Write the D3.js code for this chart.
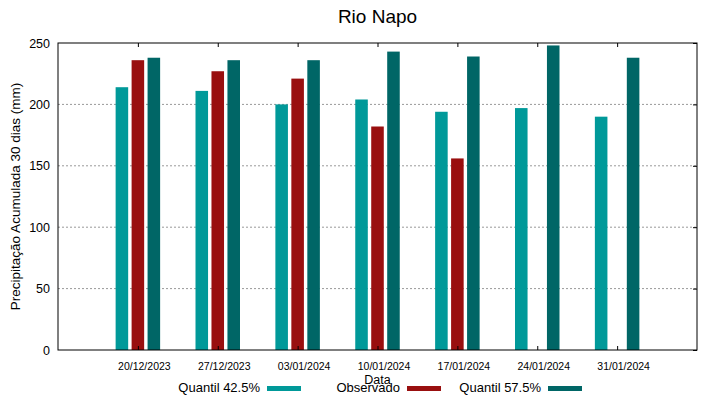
<!DOCTYPE html>
<html>
<head>
<meta charset="utf-8">
<script src="https://cdn.jsdelivr.net/npm/d3@7"></script>
<style>
  body { margin: 0; background: #fff; }
  text { font-family: "Liberation Sans", Arial, sans-serif; fill: #000; }
</style>
</head>
<body>
<svg id="chart" width="719" height="399"></svg>
<script>
const dates = ['2023-12-20', '2023-12-27', '2024-01-03', '2024-01-10', '2024-01-17', '2024-01-24', '2024-01-31'];
const q425 = [214, 211, 200, 204, 194, 197, 190];
const observado = [236, 227, 221, 182, 156, null, null];
const q575 = [238, 236, 236, 243, 239, 248, 238];
const yTicks = [0, 50, 100, 150, 200, 250];

const series = [
  { name: 'Quantil 42.5%', values: q425, color: '#009999', off: -1.4 },
  { name: 'Observado', values: observado, color: '#990f0f', off: 0 },
  { name: 'Quantil 57.5%', values: q575, color: '#006666', off: 1.4 }
];

const margin = { top: 43, right: 22, bottom: 49, left: 58 };
const W = 719, H = 399;
const width = W - margin.left - margin.right;
const height = H - margin.top - margin.bottom;

const parse = d3.timeParse('%Y-%m-%d');
const fmt = d3.timeFormat('%d/%m/%Y');
const day = 864e5;
const dts = dates.map(parse);

const x = d3.scaleTime()
  .domain([new Date(+dts[0] - 7 * day), new Date(+dts[dts.length - 1] + 7 * day)])
  .range([0, width]);
const y = d3.scaleLinear().domain([0, 250]).range([height, 0]);

const svg = d3.select('#chart');
const g = svg.append('g').attr('transform', `translate(${margin.left},${margin.top})`);

// grid
g.selectAll('.grid').data(yTicks.filter(t => t > 0 && t < 250)).enter()
  .append('line')
  .attr('x1', 0).attr('x2', width)
  .attr('y1', d => y(d)).attr('y2', d => y(d))
  .attr('stroke', '#999').attr('stroke-width', 1)
  .attr('stroke-dasharray', '2,2');

// bars
const barW = x(new Date(+dts[0] + 1.1 * day)) - x(dts[0]);
series.forEach(s => {
  g.selectAll(null).data(s.values.map((v, i) => ({ v, d: dts[i] })).filter(p => p.v != null))
    .enter().append('rect')
    .attr('x', p => x(new Date(+p.d + s.off * day)) - barW / 2)
    .attr('width', barW)
    .attr('y', p => y(p.v))
    .attr('height', p => height - y(p.v))
    .attr('fill', s.color);
});

// frame
g.append('rect').attr('width', width).attr('height', height)
  .attr('fill', 'none').attr('stroke', '#000').attr('stroke-width', 1);

// y axis
const yAxis = g.append('g').call(d3.axisLeft(y).tickValues(yTicks).tickSize(0).tickPadding(8));
yAxis.select('.domain').remove();
yAxis.selectAll('text').attr('font-size', 12.5).style('font-family', '"Liberation Sans", Arial, sans-serif');
// mirrored y ticks on right
g.append('g').attr('transform', `translate(${width},0)`)
  .call(d3.axisLeft(y).tickValues(yTicks).tickSize(4).tickFormat(''))
  .select('.domain').remove();

// x axis labels + inward ticks
const xAxis = g.append('g').attr('transform', `translate(0,${height})`)
  .call(d3.axisBottom(x).tickValues(dts).tickFormat(fmt).tickSize(0).tickPadding(13));
xAxis.select('.domain').remove();
xAxis.selectAll('text').attr('font-size', 10.5).attr('dx', 6)
  .style('font-family', '"Liberation Sans", Arial, sans-serif');
g.append('g').attr('transform', `translate(0,${height})`)
  .call(d3.axisTop(x).tickValues(dts).tickSize(4).tickFormat(''))
  .select('.domain').remove();
g.append('g')
  .call(d3.axisBottom(x).tickValues(dts).tickSize(4).tickFormat(''))
  .select('.domain').remove();
g.selectAll('.tick line').attr('stroke', '#000');

// title and axis titles
svg.append('text').attr('x', margin.left + width / 2).attr('y', 23)
  .attr('text-anchor', 'middle').attr('font-size', 19).text('Rio Napo');
svg.append('text').attr('x', margin.left + width / 2).attr('y', 384)
  .attr('text-anchor', 'middle').attr('font-size', 12.5).text('Data');
svg.append('text')
  .attr('transform', `translate(20,${margin.top + height / 2}) rotate(-90)`)
  .attr('text-anchor', 'middle').attr('font-size', 13.5)
  .text('Precipitação Acumulada 30 dias (mm)');

// legend
const legEnds = [260, 400, 541];
series.forEach((s, i) => {
  svg.append('text').attr('x', legEnds[i]).attr('y', 392)
    .attr('text-anchor', 'end').attr('font-size', 13).text(s.name);
  svg.append('rect').attr('x', legEnds[i] + 7).attr('y', 386)
    .attr('width', 34).attr('height', 5).attr('fill', s.color);
});
</script>
</body>
</html>
